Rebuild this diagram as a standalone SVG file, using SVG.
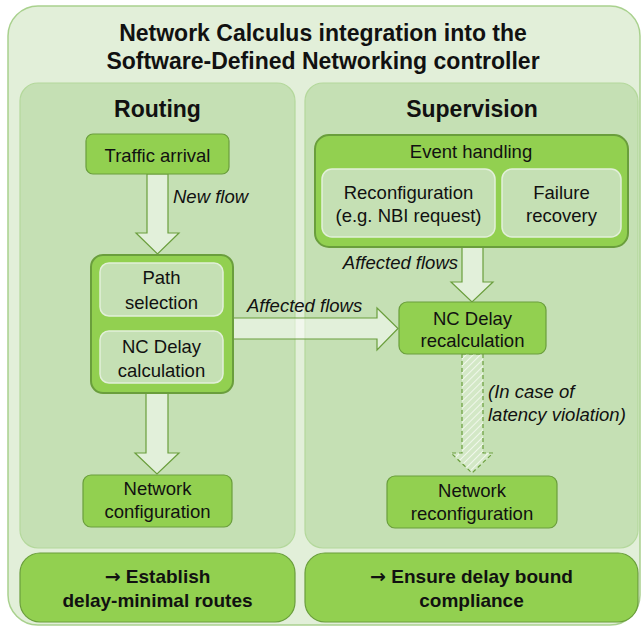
<svg xmlns="http://www.w3.org/2000/svg" width="641" height="627" viewBox="0 0 641 627">
<defs>
<style>
.outer{fill:#e2efd9;stroke:#a9d18e;stroke-width:1.5}
.panel{fill:#c5e0b4;stroke:#b4d89c;stroke-width:1.2}
.box{fill:#92d050;stroke:#6a9e3c;stroke-width:1.2}
.grp{fill:#92d050;stroke:#6a9e3c;stroke-width:2}
.inner{fill:#c5e0b4;stroke:#e2efd9;stroke-width:1.5}
.arrow{fill:#ffffff;fill-opacity:0.5;stroke:#6a9e3c;stroke-width:1.2}
.dash{fill:url(#hatch);stroke:#6a9e3c;stroke-width:1.2;stroke-dasharray:4 3}
text{font-family:"Liberation Sans",Arial,sans-serif;fill:#111;text-anchor:middle}
.t{font-size:18.5px}
.h{font-size:23px;font-weight:bold}
.b{font-size:19px;font-weight:bold}
.i{font-size:18.5px;font-style:italic}
.ar{font-family:"DejaVu Sans",sans-serif;font-weight:bold}
</style>
<pattern id="hatch" width="5" height="5" patternUnits="userSpaceOnUse" patternTransform="rotate(45)">
<rect width="5" height="5" fill="#d3e8c6"/>
<line x1="0" y1="0" x2="0" y2="5" stroke="#f0f7eb" stroke-width="2"/>
</pattern>
</defs>

<g id="outer">
<rect class="outer" x="8" y="6" width="632" height="619" rx="30"/>
<text class="h" x="323" y="41">Network Calculus integration into the</text>
<text class="h" x="323" y="69">Software-Defined Networking controller</text>
</g>

<g id="routing-panel">
<rect class="panel" x="20" y="83" width="275" height="465" rx="18"/>
<text class="h" x="157.5" y="117">Routing</text>
</g>
<g id="supervision-panel">
<rect class="panel" x="305" y="83" width="333" height="465" rx="18"/>
<text class="h" x="472" y="117">Supervision</text>
</g>

<g id="connectors">
<path class="arrow" d="M147,174 H168 V233 H179 L157.5,254 L136,233 H147 Z"/>
<path class="arrow" d="M146,393 H168 V453 H179 L157,474 L135,453 H146 Z"/>
<path class="arrow" d="M233,318 H377 V308 L398,328.5 L377,350 V339 H233 Z"/>
<path class="arrow" d="M462,247 H483 V282 H493 L472,302 L451,282 H462 Z"/>
<path class="dash" d="M462,354 H483 V453 H493 L472,473 L451,453 H462 Z"/>
<text class="i" x="173" y="203" style="text-anchor:start">New flow</text>
<text class="i" x="247" y="312" style="text-anchor:start">Affected flows</text>
<text class="i" x="458" y="269" style="text-anchor:end">Affected flows</text>
<text class="i" x="488" y="398" style="text-anchor:start">(In case of</text>
<text class="i" x="488" y="421" style="text-anchor:start">latency violation)</text>
</g>

<g id="traffic-arrival">
<rect class="box" x="86" y="134" width="143" height="40" rx="7"/>
<text class="t" x="157.5" y="162">Traffic arrival</text>
</g>

<g id="routing-group">
<rect class="grp" x="91" y="255" width="142" height="138" rx="12"/>
</g>
<g id="path-selection">
<rect class="inner" x="100" y="263" width="123" height="53" rx="9"/>
<text class="t" x="161.5" y="284">Path</text>
<text class="t" x="161.5" y="309">selection</text>
</g>
<g id="nc-delay-calculation">
<rect class="inner" x="100" y="331" width="123" height="52" rx="9"/>
<text class="t" x="161.5" y="353">NC Delay</text>
<text class="t" x="161.5" y="377">calculation</text>
</g>

<g id="network-configuration">
<rect class="box" x="83" y="475" width="149" height="52" rx="8"/>
<text class="t" x="157.5" y="495">Network</text>
<text class="t" x="157.5" y="518">configuration</text>
</g>

<g id="event-handling">
<rect class="grp" x="315" y="135" width="313" height="112" rx="14"/>
<text class="t" x="471" y="158">Event handling</text>
</g>
<g id="reconfiguration">
<rect class="inner" x="322" y="169" width="173" height="68" rx="10"/>
<text class="t" x="408.5" y="199">Reconfiguration</text>
<text class="t" x="408.5" y="222">(e.g. NBI request)</text>
</g>
<g id="failure-recovery">
<rect class="inner" x="502" y="169" width="119" height="68" rx="10"/>
<text class="t" x="561.5" y="199">Failure</text>
<text class="t" x="561.5" y="222">recovery</text>
</g>

<g id="nc-delay-recalculation">
<rect class="box" x="399" y="302" width="147" height="52" rx="8"/>
<text class="t" x="472.5" y="325">NC Delay</text>
<text class="t" x="472.5" y="347">recalculation</text>
</g>

<g id="network-reconfiguration">
<rect class="box" x="387" y="476" width="170" height="52" rx="8"/>
<text class="t" x="472" y="497">Network</text>
<text class="t" x="472" y="520">reconfiguration</text>
</g>

<g id="goal-routing">
<rect class="box" x="20" y="553" width="275" height="69" rx="20"/>
<text class="b" x="157.5" y="583"><tspan class="ar">→</tspan> Establish</text>
<text class="b" x="157.5" y="607">delay-minimal routes</text>
</g>
<g id="goal-supervision">
<rect class="box" x="305" y="553" width="333" height="69" rx="20"/>
<text class="b" x="471.5" y="583"><tspan class="ar">→</tspan> Ensure delay bound</text>
<text class="b" x="471.5" y="607">compliance</text>
</g>
</svg>
